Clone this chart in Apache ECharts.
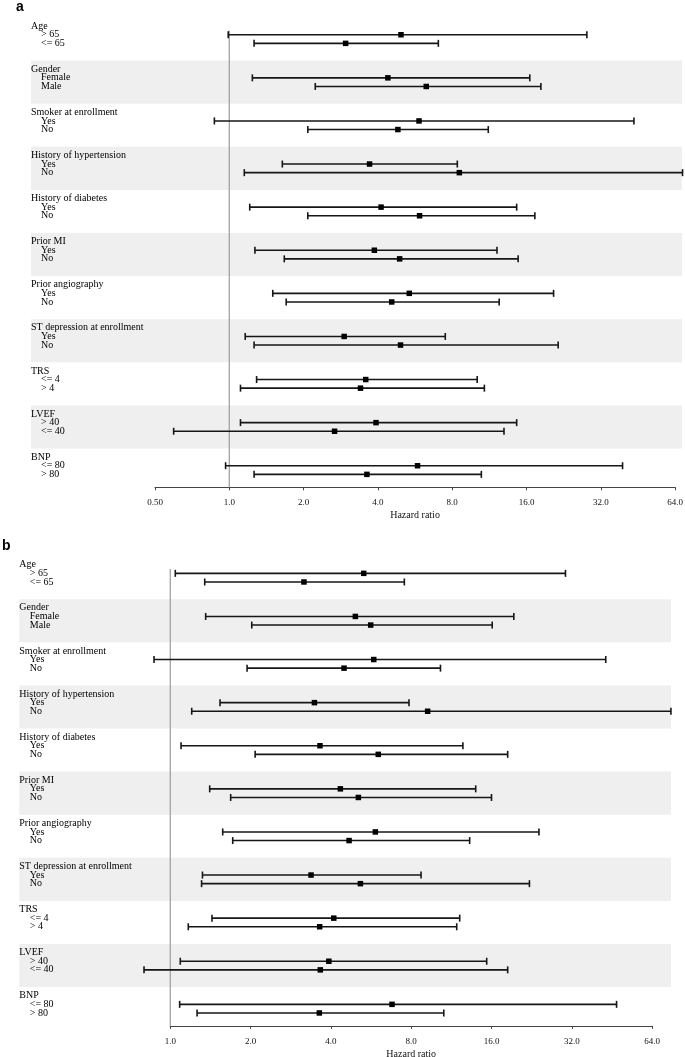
<!DOCTYPE html>
<html><head><meta charset="utf-8">
<script src="https://cdn.jsdelivr.net/npm/echarts@6/dist/echarts.min.js"></script>
<style>html,body{margin:0;padding:0;background:#fff}#c{width:685px;height:1057px}</style>
</head><body><div id="c"></div>
<script>
// ---------- data ----------
const groups = ['Age','Gender','Smoker at enrollment','History of hypertension','History of diabetes','Prior MI','Prior angiography','ST depression at enrollment','TRS','LVEF','BNP'];
const subgroups = [['> 65','<= 65'],['Female','Male'],['Yes','No'],['Yes','No'],['Yes','No'],['Yes','No'],['Yes','No'],['Yes','No'],['<= 4','> 4'],['> 40','<= 40'],['<= 80','> 80']];
const shadedGroups = [1,3,5,7,9];

// panel a: hazard ratio, lower CI, upper CI
const estA  = [4.96,2.96, 4.39,6.28, 5.87,4.82, 3.70,8.55, 4.12,5.90, 3.87,4.90, 5.36,4.55, 2.92,4.94, 3.57,3.40, 3.93,2.67, 5.79,3.61];
const lowA  = [0.99,1.26, 1.24,2.23, 0.87,2.08, 1.64,1.15, 1.21,2.08, 1.27,1.67, 1.50,1.70, 1.16,1.26, 1.29,1.11, 1.11,0.595, 0.966,1.26];
const highA = [28.1,7.03, 16.5,18.3, 43.6,11.2, 8.39,68.6, 14.6,17.3, 12.15,14.8, 20.6,12.4, 7.50,21.5, 10.1,10.8, 14.6,12.97, 39.2,10.5];

// panel b
const estB  = [5.31,3.17, 4.94,5.64, 5.79,4.48, 3.47,9.22, 3.64,6.02, 4.34,5.07, 5.87,4.68, 3.37,5.16, 4.10,3.63, 3.93,3.65, 6.78,3.62];
const lowB  = [1.044,1.346, 1.357,2.02, 0.869,1.94, 1.536,1.203, 1.097,2.08, 1.405,1.684, 1.572,1.714, 1.32,1.31, 1.433,1.168, 1.09,0.797, 1.084,1.26];
const highB = [30.3,7.54, 19.4,16.1, 42.9,10.3, 7.85,75.3, 12.5,18.4, 13.96,16.0, 24.1,13.25, 8.71,22.2, 12.16,11.85, 15.35,18.4, 47.1,10.6];

const tickLabelsA = ['0.50','1.0','2.0','4.0','8.0','16.0','32.0','64.0'];
const tickLabelsB = ['1.0','2.0','4.0','8.0','16.0','32.0','64.0'];
const refValue = 1;
const axisTitle = 'Hazard ratio';

// ---------- helpers ----------
const SERIF = '"Liberation Serif","Times New Roman",serif';
const ROWS = groups.length * 5;
const rowText = [], rowKind = [], rowKeys = [];
for (let i = 0; i < ROWS; i++) { rowText.push(''); rowKind.push('n'); rowKeys.push('r' + i); }
groups.forEach((g, gi) => {
  rowText[5*gi+1] = g; rowKind[5*gi+1] = 'h';
  subgroups[gi].forEach((s, j) => { rowText[5*gi+2+j] = s; rowKind[5*gi+2+j] = 's'; });
});
const dataRows = [];
groups.forEach((g, gi) => subgroups[gi].forEach((s, j) => dataRows.push(5*gi+2+j)));

const ROWH = 8.62;
function panel(idx, cfg) {
  const gi = idx * 2;
  const grids = [
    { left: cfg.labLeft, top: cfg.row0 - ROWH/2, width: cfg.labRight - cfg.labLeft, height: ROWS*ROWH, outerBoundsMode: 'none', containLabel: false },
    { left: cfg.plotLeft, top: cfg.row0 + 1.5*ROWH, width: cfg.plotRight - cfg.plotLeft, height: (ROWS - 2)*ROWH, outerBoundsMode: 'none', containLabel: false }
  ];
  const xAxes = [
    { type: 'value', gridIndex: gi, min: 0, max: 1, show: false },
    { type: 'log', logBase: 2, gridIndex: gi+1, min: cfg.min, max: cfg.max,
      axisLine: { show: true, onZero: false, lineStyle: { color: '#444', width: 1 } },
      axisTick: { show: true, length: 3, lineStyle: { color: '#444', width: 1 } },
      minorTick: { show: false }, splitLine: { show: false },
      axisLabel: { fontFamily: SERIF, fontSize: 9, color: '#111', margin: 11,
        formatter: v => cfg.ticks[Math.round(Math.log2(v) - Math.log2(cfg.min))] },
      name: axisTitle, nameLocation: 'middle', nameGap: 23,
      nameTextStyle: { fontFamily: SERIF, fontSize: 10, color: '#111' } }
  ];
  const yAxes = [
    { type: 'category', gridIndex: gi, inverse: true, data: rowKeys, z: 10,
      axisLine: { show: false }, axisTick: { show: false }, splitLine: { show: false },
      axisLabel: { inside: true, interval: 0, margin: 0, align: 'left',
        formatter: (v, i) => rowText[i] ? '{' + rowKind[i] + '|' + rowText[i] + '}' : '',
        rich: {
          h: { fontFamily: SERIF, fontSize: 10, color: '#000' },
          s: { fontFamily: SERIF, fontSize: 10, color: '#000', padding: [0, 0, 0, cfg.indent] }
        } } },
    { type: 'value', gridIndex: gi+1, min: 1.5, max: ROWS - 0.5, inverse: true, show: false }
  ];
  const series = [
    { type: 'custom', xAxisIndex: gi, yAxisIndex: gi, z: 1, silent: true,
      data: shadedGroups.map(g => [g]), encode: { x: 0 },
      renderItem: (p, api) => {
        const g = api.value(0);
        const a = api.coord([0, 5*g]);
        const b = api.coord([1, 5*g + 5]);
        return { type: 'rect', shape: { x: a[0], y: a[1], width: b[0]-a[0], height: b[1]-a[1] }, style: { fill: '#efefef' } };
      } },
    { type: 'custom', xAxisIndex: gi+1, yAxisIndex: gi+1, z: 2, silent: true, clip: false,
      data: [[refValue, 1.5, ROWS - 0.5]], encode: { x: 0, y: [1, 2] },
      renderItem: (p, api) => {
        const a = api.coord([api.value(0), api.value(1)]);
        const b = api.coord([api.value(0), api.value(2)]);
        return { type: 'line', shape: { x1: a[0], y1: a[1], x2: b[0], y2: b[1] }, style: { stroke: '#a3a3a3', lineWidth: 1.3 } };
      } },
    { type: 'custom', xAxisIndex: gi+1, yAxisIndex: gi+1, z: 3, silent: true, clip: false,
      data: cfg.est.map((e, i) => [e, cfg.low[i], cfg.high[i], dataRows[i]]),
      encode: { x: [0, 1, 2], y: 3 },
      renderItem: (p, api) => {
        const y = api.value(3);
        const lo = api.coord([api.value(1), y]);
        const hi = api.coord([api.value(2), y]);
        const e = api.coord([api.value(0), y]);
        const cap = 3.5, sq = 5.5;
        const st = { stroke: '#161616', lineWidth: 1.6 };
        return { type: 'group', children: [
          { type: 'line', shape: { x1: lo[0], y1: lo[1], x2: hi[0], y2: hi[1] }, style: st },
          { type: 'line', shape: { x1: lo[0], y1: lo[1]-cap, x2: lo[0], y2: lo[1]+cap }, style: st },
          { type: 'line', shape: { x1: hi[0], y1: hi[1]-cap, x2: hi[0], y2: hi[1]+cap }, style: st },
          { type: 'rect', shape: { x: e[0]-sq/2, y: e[1]-sq/2, width: sq, height: sq }, style: { fill: '#000' } }
        ] };
      } }
  ];
  return { grids, xAxes, yAxes, series };
}

const pa = panel(0, { labLeft: 31, labRight: 682, row0: 17.5, plotLeft: 155.0, plotRight: 675.1, min: 0.5, max: 64,
  ticks: tickLabelsA, est: estA, low: lowA, high: highA, indent: 10 });
const pb = panel(1, { labLeft: 19.3, labRight: 671, row0: 556.1, plotLeft: 170.3, plotRight: 652.1, min: 1, max: 64,
  ticks: tickLabelsB, est: estB, low: lowB, high: highB, indent: 10.5 });

const chart = echarts.init(document.getElementById('c'), null, { renderer: 'canvas' });
chart.setOption({
  backgroundColor: '#fff',
  animation: false,
  title: [
    { text: 'a', left: 16, top: 0, padding: 0, textStyle: { fontFamily: '"Liberation Sans",Arial,sans-serif', fontWeight: 'bold', fontSize: 14, color: '#000' } },
    { text: 'b', left: 2, top: 539, padding: 0, textStyle: { fontFamily: '"Liberation Sans",Arial,sans-serif', fontWeight: 'bold', fontSize: 14, color: '#000' } }
  ],
  grid: pa.grids.concat(pb.grids),
  xAxis: pa.xAxes.concat(pb.xAxes),
  yAxis: pa.yAxes.concat(pb.yAxes),
  series: pa.series.concat(pb.series)
});
</script></body></html>
